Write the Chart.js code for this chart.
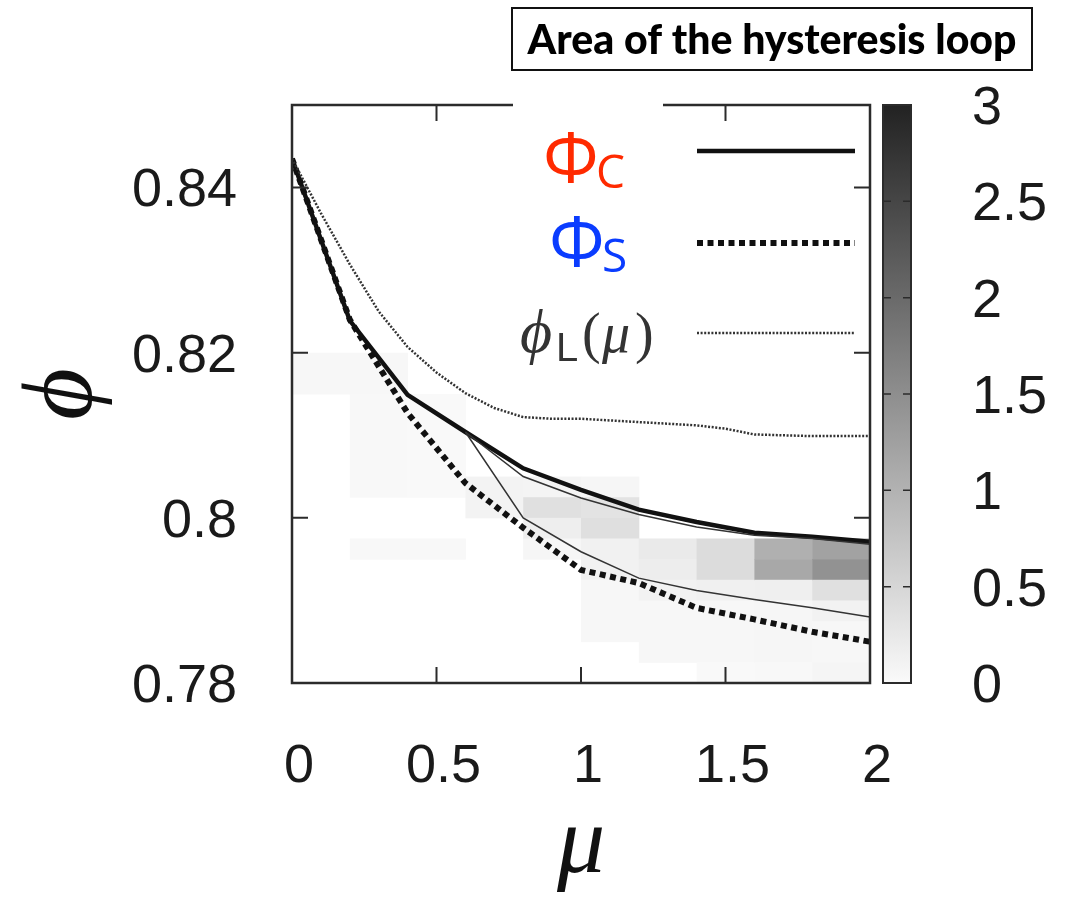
<!DOCTYPE html>
<html>
<head>
<meta charset="utf-8">
<script src="https://cdn.jsdelivr.net/npm/chart.js@4.4.1/dist/chart.umd.min.js"></script>
<style>
  html, body { margin: 0; padding: 0; background: #fff; }
  #wrap { position: relative; width: 1067px; height: 909px; }
</style>
</head>
<body>
<div id="wrap"><canvas id="chart" width="1067" height="909"></canvas></div>
<script>
// friction coefficient grid
const mu = [0, 0.2, 0.4, 0.6, 0.8, 1.0, 1.2, 1.4, 1.6, 1.8, 2.0];
// jamming densities
const phiC = [0.8435, 0.8239, 0.8149, 0.8104, 0.8060, 0.8034, 0.8010, 0.7995, 0.7982, 0.7977, 0.7971];
const phiS = [0.8435, 0.8240, 0.8127, 0.8042, 0.7988, 0.7937, 0.7921, 0.7891, 0.7877, 0.7862, 0.7850];
// hysteresis branches (split off at mu = 0.6)
const phiUp = [null, null, null, 0.8104, 0.8050, 0.8024, 0.8004, 0.7989, 0.7979, 0.7975, 0.7968];
const phiDown = [null, null, null, 0.8104, 0.8000, 0.7959, 0.7927, 0.7912, 0.7901, 0.7891, 0.7880];
// loose packing limit, finer mu grid
const muL = [0, 0.1, 0.2, 0.3, 0.4, 0.5, 0.6, 0.7, 0.8, 0.9, 1.0, 1.1, 1.2, 1.3, 1.4, 1.5, 1.6, 1.7, 1.8, 1.9, 2.0];
const phiL = [0.8435, 0.8369, 0.8307, 0.8250, 0.8207, 0.8176, 0.8151, 0.8133, 0.8122, 0.8120, 0.8120,
              0.8118, 0.8116, 0.8114, 0.8112, 0.8108, 0.8101, 0.8100, 0.8099, 0.8099, 0.8099];

const muTicks = [0, 0.5, 1, 1.5, 2];
const muTickLabels = ['0', '0.5', '1', '1.5', '2'];
const phiTicks = [0.78, 0.80, 0.82, 0.84];
const phiTickLabels = ['0.78', '0.8', '0.82', '0.84'];
const areaTicks = [0, 0.5, 1, 1.5, 2, 2.5, 3];
const areaTickLabels = ['0', '0.5', '1', '1.5', '2', '2.5', '3'];

// loop area map: cell left mu edge, phi range, area
const cellMu    = [0,     0.2,   0.2,    0.2,    0.4,    0.4,    0.6,   0.8,    0.8,   0.8,    0.8,
                   1.0,    1.0,   1.0,    1.0,    1.0,   1.2,    1.2,    1.2,   1.2,
                   1.4,    1.4,   1.4,    1.4,   1.6,    1.6,    1.6,   1.6,    1.6,
                   1.8,    1.8,    1.8,   1.8,    1.8,    1.8];
const cellPhiLo = [0.815, 0.815, 0.8025, 0.795,  0.8025, 0.795,  0.80,  0.8025, 0.80,  0.7975, 0.795,
                   0.8025, 0.80,  0.7975, 0.7925, 0.785, 0.795,  0.7925, 0.79,  0.7825,
                   0.7925, 0.79,  0.7825, 0.78,  0.795,  0.7925, 0.79,  0.7825, 0.78,
                   0.795,  0.7925, 0.79,  0.7875, 0.7825, 0.78];
const cellPhiHi = [0.82,  0.82,  0.815,  0.7975, 0.815,  0.7975, 0.805, 0.805,  0.8025, 0.80,  0.7975,
                   0.805,  0.8025, 0.80,  0.7975, 0.7925, 0.7975, 0.795, 0.7925, 0.79,
                   0.7975, 0.7925, 0.79,  0.7825, 0.7975, 0.795,  0.7925, 0.79, 0.7825,
                   0.7975, 0.795,  0.7925, 0.79,  0.7875, 0.7825];
const cellArea  = [0.04,  0.04,  0.03,   0.03,   0.02,   0.03,   0.10,  0.08,   0.36,  0.17,   0.05,
                   0.06,   0.32,  0.38,   0.12,   0.04,  0.22,   0.18,   0.11,  0.04,
                   0.42,   0.14,  0.04,   0.02,  1.03,   1.14,   0.15,  0.05,   0.03,
                   1.22,   1.44,   0.36,  0.11,   0.04,   0.07];

const BIN = 0.2;
const FRAME = '#2b2b2b';

function areaGray(v) {
  const g = Math.round(Math.max(30, 250 - 72 * v));
  return `rgb(${g},${g},${g})`;
}

const areaMap = {
  id: 'areaMap',
  beforeDatasetsDraw(chart) {
    const { ctx, chartArea: a, scales: { x, y } } = chart;
    ctx.save();
    ctx.beginPath();
    ctx.rect(a.left, a.top, a.right - a.left, a.bottom - a.top);
    ctx.clip();
    for (let i = 0; i < cellMu.length; i++) {
      const x0 = x.getPixelForValue(cellMu[i]);
      const x1 = x.getPixelForValue(cellMu[i] + BIN);
      const y0 = y.getPixelForValue(cellPhiHi[i]);
      const y1 = y.getPixelForValue(cellPhiLo[i]);
      ctx.fillStyle = areaGray(cellArea[i]);
      ctx.fillRect(x0, y0, x1 - x0 + 0.5, y1 - y0 + 0.5);
    }
    ctx.restore();
  }
};

const frameAndKey = {
  id: 'frameAndKey',
  afterDatasetsDraw(chart) {
    const { ctx, chartArea: a, scales: { x, y, cb } } = chart;
    const tl = 16;
    ctx.save();
    ctx.strokeStyle = FRAME;
    ctx.lineWidth = 2.5;
    ctx.strokeRect(a.left, a.top, a.right - a.left, a.bottom - a.top);
    ctx.lineWidth = 2;
    ctx.beginPath();
    muTicks.forEach(v => {
      const px = x.getPixelForValue(v);
      ctx.moveTo(px, a.bottom); ctx.lineTo(px, a.bottom - tl);
      ctx.moveTo(px, a.top); ctx.lineTo(px, a.top + tl);
    });
    phiTicks.forEach(v => {
      const py = y.getPixelForValue(v);
      ctx.moveTo(a.left, py); ctx.lineTo(a.left + tl, py);
      ctx.moveTo(a.right, py); ctx.lineTo(a.right - tl, py);
    });
    ctx.stroke();

    // key background breaks the top border
    ctx.fillStyle = '#fff';
    ctx.fillRect(513, a.top - 6, 150, 26);

    // colour bar
    const bx0 = a.right + 13, bx1 = a.right + 41;
    const grad = ctx.createLinearGradient(0, cb.getPixelForValue(0), 0, cb.getPixelForValue(3));
    for (let v = 0; v <= 3; v += 0.5) grad.addColorStop(v / 3, areaGray(v));
    ctx.fillStyle = grad;
    ctx.fillRect(bx0, cb.top, bx1 - bx0, cb.bottom - cb.top);
    ctx.strokeStyle = FRAME;
    ctx.lineWidth = 2;
    ctx.strokeRect(bx0, cb.top, bx1 - bx0, cb.bottom - cb.top);
    ctx.lineWidth = 1.5;
    ctx.beginPath();
    areaTicks.slice(1, -1).forEach(v => {
      const py = cb.getPixelForValue(v);
      ctx.moveTo(bx0, py); ctx.lineTo(bx0 + 8, py);
      ctx.moveTo(bx1, py); ctx.lineTo(bx1 - 8, py);
    });
    ctx.stroke();

    // key
    ctx.textBaseline = 'alphabetic';
    ctx.fillStyle = '#ff2a00';
    ctx.font = '70px "Open Sans"';
    ctx.fillText('Φ', 543, 182);
    ctx.font = '46px "Open Sans"';
    ctx.fillText('C', 596, 188);
    ctx.fillStyle = '#0a3cff';
    ctx.font = '70px "Open Sans"';
    ctx.fillText('Φ', 549, 266);
    ctx.font = '46px "Open Sans"';
    ctx.fillText('S', 602, 272);

    ctx.fillStyle = '#333';
    ctx.font = 'italic 62px "Liberation Serif"';
    ctx.fillText('ϕ', 520, 352);
    ctx.font = '40px "Liberation Sans"';
    ctx.fillText('L', 556, 361);
    ctx.font = '56px "Liberation Serif"';
    ctx.fillText('(', 582, 352);
    ctx.font = 'italic 56px "Liberation Serif"';
    ctx.fillText('μ', 602, 352);
    ctx.font = '56px "Liberation Serif"';
    ctx.fillText(')', 635, 352);

    ctx.strokeStyle = '#111';
    ctx.lineWidth = 4.5;
    ctx.beginPath(); ctx.moveTo(697, 151); ctx.lineTo(855, 151); ctx.stroke();
    ctx.lineWidth = 6;
    ctx.setLineDash([6, 4.5]);
    ctx.beginPath(); ctx.moveTo(697, 243); ctx.lineTo(855, 243); ctx.stroke();
    ctx.strokeStyle = '#333';
    ctx.lineWidth = 2.5;
    ctx.setLineDash([2, 1.6]);
    ctx.beginPath(); ctx.moveTo(697, 333); ctx.lineTo(855, 333); ctx.stroke();
    ctx.setLineDash([]);

    // boxed heading
    ctx.strokeStyle = '#111';
    ctx.lineWidth = 2;
    ctx.strokeRect(512, 8, 520, 62);
    ctx.fillStyle = '#000';
    ctx.font = '900 41px Lato';
    ctx.textAlign = 'center';
    ctx.textBaseline = 'middle';
    ctx.fillText('Area of the hysteresis loop', 772, 41);
    ctx.restore();
  }
};

const pts = (xs, ys) => xs.map((v, i) => ({ x: v, y: ys[i] }));
const tickFont = { family: '"Liberation Sans", Arial, sans-serif', size: 54 };
const noPad = s => { s.paddingTop = 0; s.paddingBottom = 0; s.paddingLeft = 0; s.paddingRight = 0; };

new Chart(document.getElementById('chart'), {
  type: 'line',
  data: {
    datasets: [
      { label: 'phiL', data: pts(muL, phiL), borderColor: '#333', borderWidth: 2.5, borderDash: [2, 1.6] },
      { label: 'up', data: pts(mu, phiUp), borderColor: '#333', borderWidth: 1.5, spanGaps: false },
      { label: 'down', data: pts(mu, phiDown), borderColor: '#333', borderWidth: 1.5, spanGaps: false },
      { label: 'phiC', data: pts(mu, phiC), borderColor: '#111', borderWidth: 4.5 },
      { label: 'phiS', data: pts(mu, phiS), borderColor: '#111', borderWidth: 6, borderDash: [6, 4.5] }
    ].map(d => Object.assign({ pointRadius: 0, fill: false, tension: 0, borderCapStyle: 'butt' }, d))
  },
  options: {
    responsive: false,
    animation: false,
    layout: { padding: { top: 105, left: 0, right: 0, bottom: 0 } },
    plugins: { legend: { display: false }, tooltip: { enabled: false } },
    scales: {
      x: {
        type: 'linear', min: 0, max: 2,
        grid: { display: false }, border: { display: false },
        afterBuildTicks: s => { s.ticks = muTicks.map(v => ({ value: v })); },
        ticks: { callback: (v, i) => muTickLabels[i], font: tickFont, color: '#1a1a1a',
                 padding: 44, maxRotation: 0, labelOffset: 7 },
        title: { display: true, text: 'μ', color: '#111',
                 font: { family: '"Liberation Serif", serif', style: 'italic', size: 96, lineHeight: 1 },
                 padding: { top: 0, bottom: 14 } },
        afterFit: s => { noPad(s); s.height = 909 - 683; }
      },
      y: {
        type: 'linear', min: 0.78, max: 0.85,
        grid: { display: false }, border: { display: false },
        afterBuildTicks: s => { s.ticks = phiTicks.map(v => ({ value: v })); },
        ticks: { callback: (v, i) => phiTickLabels[i], font: tickFont, color: '#1a1a1a',
                 padding: 47, labelOffset: 4 },
        title: { display: true, text: 'ϕ', color: '#111',
                 font: { family: '"Liberation Serif", serif', style: 'italic', size: 100, lineHeight: 1 },
                 padding: { top: 15, bottom: 0 } },
        afterFit: s => { noPad(s); s.width = 292; }
      },
      cb: {
        type: 'linear', position: 'right', min: 0, max: 3,
        grid: { display: false }, border: { display: false },
        afterBuildTicks: s => { s.ticks = areaTicks.map(v => ({ value: v })); },
        ticks: { callback: (v, i) => areaTickLabels[i], font: tickFont, color: '#1a1a1a',
                 padding: 94, labelOffset: 4 },
        afterFit: s => { noPad(s); s.width = 1067 - 870; }
      }
    }
  },
  plugins: [areaMap, frameAndKey]
});
</script>
</body>
</html>
